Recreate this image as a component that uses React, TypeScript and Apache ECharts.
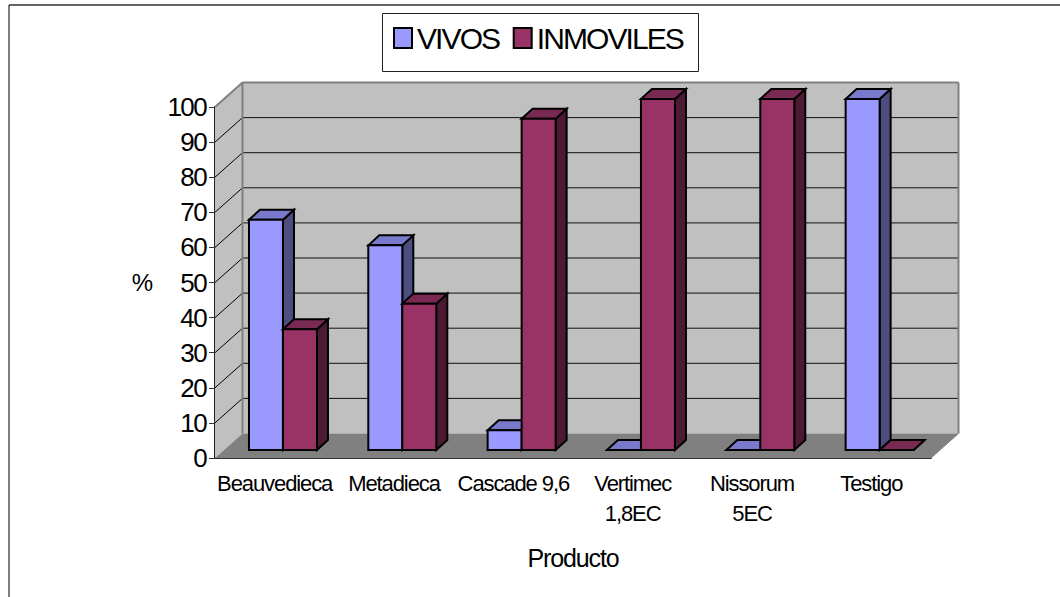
import React, { useEffect, useRef } from "react";
import * as echarts from "echarts";

const categories = ["Beauvedieca", "Metadieca", "Cascade 9,6", "Vertimec\n1,8EC", "Nissorum\n5EC", "Testigo"];
const vivos = [65.6, 58.3, 5.6, 0, 0, 100];
const inmoviles = [34.4, 41.7, 94.4, 100, 100, 0];
const yTicks = [0, 10, 20, 30, 40, 50, 60, 70, 80, 90, 100];
const seriesNames = ["VIVOS", "INMOVILES"];
const font = "Liberation Sans";

const DEPTH_X = 27.5;
const DEPTH_Y = 24.5;
const BAR_OFF_X = 8.3;
const BAR_OFF_Y = 8;
const BAR_DX = 11;
const BAR_DY = 10;
const BAR_W = 34;

const palette = [
  { front: "#9999FF", side: "#4D4D80", top: "#7A7ACC" },
  { front: "#993366", side: "#4D1A33", top: "#7A2952" },
];

const tightText = `
  svg text[style*="30px"] { letter-spacing: -1.9px; }
  svg text[style*="26px"] { letter-spacing: -1.6px; }
  svg text[style*="22px"] { letter-spacing: -1.1px; }
  svg text[style*="25px"] { letter-spacing: -1.1px; }
`;

function poly(points: number[][], fill: string, stroke?: string, lineWidth = 0) {
  return {
    type: "polygon",
    shape: { points },
    style: { fill, stroke: stroke || "none", lineWidth },
  };
}

function line(a: number[], b: number[], stroke: string, lineWidth: number) {
  return {
    type: "line",
    shape: { x1: a[0], y1: a[1], x2: b[0], y2: b[1] },
    style: { stroke, lineWidth },
  };
}

function renderWalls(params: any, api: any) {
  const v = api.value(0);
  const n = categories.length;
  const left = api.coord([0, 0])[0] - api.size([1, 0])[0] / 2;
  const right = left + api.size([1, 0])[0] * n;
  const y0 = api.coord([0, 0])[1];
  const y1 = api.coord([0, 100])[1];
  const y = api.coord([0, v])[1];
  const children: any[] = [];
  if (params.dataIndex === 0) {
    children.push(
      poly([[left + DEPTH_X, y1 - DEPTH_Y], [right + DEPTH_X, y1 - DEPTH_Y], [right + DEPTH_X, y0 - DEPTH_Y], [left + DEPTH_X, y0 - DEPTH_Y]], "#C0C0C0"),
      poly([[left, y1], [left + DEPTH_X, y1 - DEPTH_Y], [left + DEPTH_X, y0 - DEPTH_Y], [left, y0]], "#C0C0C0"),
      poly([[left, y0], [left + DEPTH_X, y0 - DEPTH_Y], [right + DEPTH_X, y0 - DEPTH_Y], [right, y0]], "#808080")
    );
  }
  if (v > 0) {
    children.push(line([left, y], [left + DEPTH_X, y - DEPTH_Y], v === 100 ? "#808080" : "#000000", v === 100 ? 2 : 1));
    if (v < 100) children.push(line([left + DEPTH_X, y - DEPTH_Y], [right + DEPTH_X, y - DEPTH_Y], "#111111", 1));
  }
  if (v === 100) {
    children.push(
      line([left + DEPTH_X, y1 - DEPTH_Y], [right + DEPTH_X, y1 - DEPTH_Y], "#808080", 2),
      line([left + DEPTH_X, y1 - DEPTH_Y], [left + DEPTH_X, y0 - DEPTH_Y], "#808080", 2),
      line([right + DEPTH_X, y1 - DEPTH_Y], [right + DEPTH_X, y0 - DEPTH_Y], "#808080", 2),
      line([right + DEPTH_X, y0 - DEPTH_Y], [right, y0], "#808080", 1)
    );
  }
  return { type: "group", children };
}

function renderBars(_params: any, api: any) {
  const cat = api.value(0);
  const val = api.value(1);
  const s = api.value(2);
  const c = palette[s];
  const center = api.coord([cat, 0])[0] + BAR_OFF_X;
  const yb = api.coord([cat, 0])[1] - BAR_OFF_Y;
  const yt = api.coord([cat, val])[1] - BAR_OFF_Y;
  const x0 = center - BAR_W + s * BAR_W;
  const x1 = x0 + BAR_W;
  const stroke = "#000000";
  const lw = 2;
  return {
    type: "group",
    children: [
      poly([[x1, yt], [x1 + BAR_DX, yt - BAR_DY], [x1 + BAR_DX, yb - BAR_DY], [x1, yb]], c.side, stroke, lw),
      poly([[x0, yt], [x0 + BAR_DX, yt - BAR_DY], [x1 + BAR_DX, yt - BAR_DY], [x1, yt]], c.top, stroke, lw),
      poly([[x0, yt], [x1, yt], [x1, yb], [x0, yb]], c.front, stroke, lw),
    ],
  };
}

function barData(values: number[], s: number) {
  return values.map((v, i) => [i, v, s]);
}

export default function App() {
  const ref = useRef<HTMLDivElement>(null);
  useEffect(() => {
    if (!ref.current) return;
    const chart = echarts.init(ref.current, undefined, { renderer: "svg" });
    chart.setOption({
      animation: false,
      backgroundColor: "#FFFFFF",
      textStyle: { fontFamily: font },
      grid: { left: 215, right: 129, top: 107, bottom: 139 },
      legend: {
        left: 393,
        top: 23,
        padding: 0,
        itemWidth: 18,
        itemHeight: 20,
        itemGap: 4,
        icon: "rect",
        selectedMode: false,
        data: seriesNames,
        textStyle: { fontFamily: font, fontSize: 30, color: "#000000", padding: [0, 0, 8, 0] },
        itemStyle: { borderColor: "#000000", borderWidth: 2 },
      },
      xAxis: {
        type: "category",
        data: categories,
        name: "Producto",
        nameLocation: "middle",
        nameGap: 87,
        nameTextStyle: { fontFamily: font, fontSize: 25, color: "#000000" },
        axisLine: { lineStyle: { color: "#333333", width: 2 } },
        axisTick: { alignWithLabel: false, length: 6, lineStyle: { color: "#333333", width: 1 } },
        axisLabel: { interval: 0, margin: 10, fontFamily: font, fontSize: 22, lineHeight: 30, color: "#000000" },
      },
      yAxis: {
        type: "value",
        min: 0,
        max: 100,
        interval: 10,
        name: "%",
        nameLocation: "middle",
        nameRotate: 0,
        nameGap: 62,
        nameTextStyle: { fontFamily: font, fontSize: 24, color: "#000000" },
        axisLine: { show: true, lineStyle: { color: "#222222", width: 2 } },
        axisTick: { show: true, length: 6, lineStyle: { color: "#333333", width: 1 } },
        axisLabel: { margin: 9, fontFamily: font, fontSize: 26, color: "#000000" },
        splitLine: { show: false },
      },
      graphic: [
        { type: "line", silent: true, shape: { x1: 9, y1: 5, x2: 1060, y2: 5 }, style: { stroke: "#333333", lineWidth: 1.5 } },
        { type: "line", silent: true, shape: { x1: 9, y1: 5, x2: 9, y2: 597 }, style: { stroke: "#000000", lineWidth: 1 } },
        { type: "rect", silent: true, shape: { x: 382.5, y: 13.5, width: 316, height: 58 }, style: { fill: "none", stroke: "#222222", lineWidth: 1 } },
      ],
      series: [
        {
          type: "custom",
          name: "walls",
          silent: true,
          z: 1,
          clip: false,
          renderItem: renderWalls,
          encode: { x: 1, y: 0 },
          data: yTicks.map((t) => [t, 0]),
        },
        {
          type: "custom",
          name: "VIVOS",
          z: 2,
          clip: false,
          renderItem: renderBars,
          encode: { x: 0, y: 1 },
          itemStyle: { color: palette[0].front },
          data: barData(vivos, 0),
        },
        {
          type: "custom",
          name: "INMOVILES",
          z: 3,
          clip: false,
          renderItem: renderBars,
          encode: { x: 0, y: 1 },
          itemStyle: { color: palette[1].front },
          data: barData(inmoviles, 1),
        },
      ],
    });
    return () => chart.dispose();
  }, []);
  return (
    <>
      <style>{tightText}</style>
      <div ref={ref} style={{ position: "fixed", left: 0, top: 0, width: 1060, height: 597 }} />
    </>
  );
}
